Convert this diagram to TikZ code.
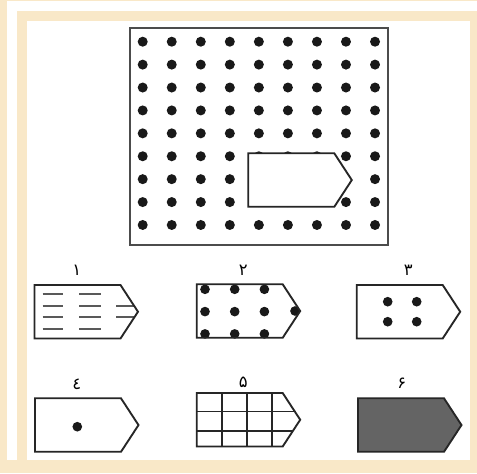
\documentclass[tikz,border=0pt]{standalone}
\usepackage{fontspec}
\newfontfamily\digitfont[Script=Arabic]{DejaVu Sans}
\definecolor{creambg}{RGB}{249,232,200}
\definecolor{tagfill}{RGB}{100,100,100}

\tikzset{
  frameline/.style={line width=1.7pt,draw=black!70},
  tagline/.style={line width=1.6pt,draw=black!85,line join=miter},
  dashline/.style={line width=1.5pt,draw=black!65},
  gridline/.style={line width=1.4pt,draw=black!85},
  dot/.style={fill=black!90},
  optlabel/.style={font=\digitfont\fontsize{14}{16}\selectfont,inner sep=0pt}
}
% tag outline, top left corner at (#1,#2)
\newcommand{\tagpath}[2]{(#1,#2) -- ++(86,0) -- ++(17.5,26.75) -- ++(-17.5,26.75) -- ++(-86,0) -- cycle}

\begin{document}
\begin{tikzpicture}[x=0.03cm,y=-0.03cm]
% page and cream frame
\fill[creambg] (0,0) rectangle (477,473);
\fill[white] (7,1) rectangle (477,11);
\fill[white] (7,1) rectangle (17,460);
\fill[white] (27,21) rectangle (470,460);
\useasboundingbox (0,0) rectangle (477,473);

% dotted board with the missing piece
\draw[frameline] (130,28) rectangle (388,245);
\foreach \i in {0,...,8}
  \foreach \j in {0,...,8}
    \fill[dot] ({142.7+29.04*\i},{41.7+22.91*\j}) circle[radius=0.15cm];
\filldraw[tagline,fill=white] \tagpath{248.3}{153.3};

% option 1
\node[optlabel] (lab1) at (76.7,270) {۱};
\begin{scope}
  \clip \tagpath{34.5}{285};
  \foreach \y in {294,305.7,317.3,329}
    \draw[dashline] (42.7,\y) -- (63.3,\y) (79.3,\y) -- (100.7,\y);
  \foreach \y in {305.7,317.3}
    \draw[dashline] (116,\y) -- (145,\y);
\end{scope}
\draw[tagline] \tagpath{34.5}{285};

% option 2
\node[optlabel] (lab2) at (243.3,270) {۲};
\foreach \i in {0,1,2}
  \foreach \j in {0,1,2}
    \fill[dot] ({205+29.7*\i},{289.3+22.3*\j}) circle[radius=0.145cm];
\fill[dot] (295,311) circle[radius=0.145cm];
\draw[tagline] \tagpath{196.7}{284.3};

% option 3
\node[optlabel] (lab3) at (408.3,270) {۳};
\draw[tagline] \tagpath{356.7}{285};
\foreach \x in {387.7,416.7}
  \foreach \y in {301.7,321.7}
    \fill[dot] (\x,\y) circle[radius=0.145cm];

% option 4
\node[optlabel] (lab4) at (76.7,384) {٤};
\draw[tagline] \tagpath{35}{398.3};
\fill[dot] (77.3,426.7) circle[radius=0.145cm];

% option 5
\node[optlabel] (lab5) at (243.3,382.7) {۵};
\begin{scope}
  \clip \tagpath{196.7}{393};
  \foreach \x in {221.7,246.7,271.7}
    \draw[gridline] (\x,390) -- (\x,450);
  \foreach \y in {411.5,431.3}
    \draw[gridline] (190,\y) -- (305,\y);
\end{scope}
\draw[tagline] \tagpath{196.7}{393};

% option 6
\node[optlabel] (lab6) at (401.7,383.3) {۶};
\filldraw[tagline,fill=tagfill] \tagpath{358}{398.3};
\end{tikzpicture}
\end{document}
